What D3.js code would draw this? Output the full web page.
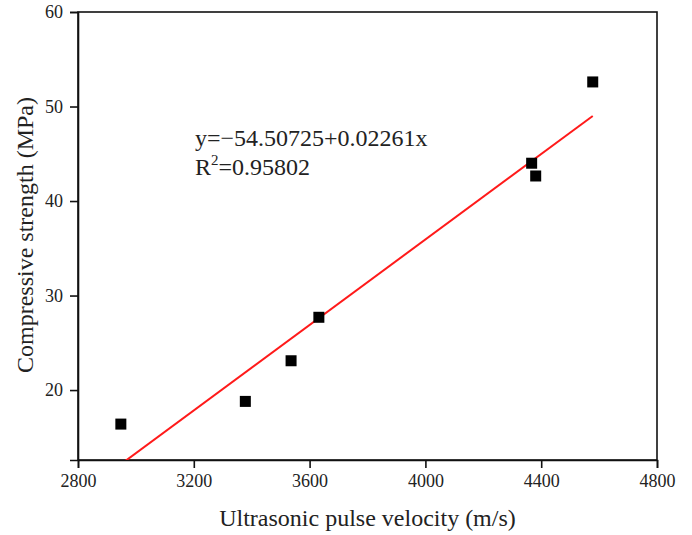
<!DOCTYPE html>
<html><head><meta charset="utf-8">
<script src="https://cdn.jsdelivr.net/npm/d3@7"></script>
<style>body{margin:0;background:#fff}svg{display:block}text{font-family:"Liberation Serif","Times New Roman",serif;fill:#222}</style>
</head><body><div id="c"></div>
<script>
const velocity = [2948, 3378, 3536, 3632, 4367, 4381, 4578];
const strength = [16.4, 18.8, 23.1, 27.7, 44.0, 42.65, 52.6];
const fitIntercept = -54.50725, fitSlope = 0.02261;
const xTicks = [2800, 3200, 3600, 4000, 4400, 4800];
const yTicks = [20, 30, 40, 50, 60];

const W = 692, H = 535;
const m = {l:78, r:35, t:12, b:75};
const svg = d3.select("#c").append("svg").attr("width", W).attr("height", H);
const x = d3.scaleLinear().domain([2800, 4800]).range([m.l, W - m.r]);
const y = d3.scaleLinear().domain([12.6, 60]).range([H - m.b, m.t]);

svg.append("defs").append("clipPath").attr("id","clip").append("rect")
  .attr("x", m.l).attr("y", m.t).attr("width", W-m.r-m.l).attr("height", H-m.b-m.t);

// frame
svg.append("rect").attr("x", m.l).attr("y", m.t).attr("width", W-m.r-m.l).attr("height", H-m.b-m.t)
  .attr("fill","none").attr("stroke","#111").attr("stroke-width",1.6);

const xa = svg.append("g").attr("transform",`translate(0,${H-m.b})`)
  .call(d3.axisBottom(x).tickValues(xTicks).tickSize(8).tickPadding(6).tickFormat(d3.format("d")));
const ya = svg.append("g").attr("transform",`translate(${m.l},0)`)
  .call(d3.axisLeft(y).tickValues(yTicks).tickSize(8).tickPadding(7).tickFormat(d3.format("d")));
[xa, ya].forEach(a => {
  a.select(".domain").attr("stroke","#111").attr("stroke-width",1.6);
  a.selectAll(".tick line").attr("stroke","#111").attr("stroke-width",1.6);
  a.selectAll(".tick text").attr("font-size", 18).attr("font-family","Liberation Serif").attr("fill","#222");
});

// fit line
const xs = d3.extent(velocity);
svg.append("line").attr("clip-path","url(#clip)")
  .attr("x1", x(xs[0])).attr("y1", y(fitIntercept + fitSlope*xs[0]))
  .attr("x2", x(xs[1])).attr("y2", y(fitIntercept + fitSlope*xs[1]))
  .attr("stroke","#ff1a1a").attr("stroke-width",2);

// points
const s = 11;
svg.selectAll("rect.pt").data(velocity).enter().append("rect").attr("class","pt")
  .attr("x", (d)=>x(d)-s/2).attr("y", (d,i)=>y(strength[i])-s/2)
  .attr("width", s).attr("height", s).attr("fill","#000");

// equation
const eq = svg.append("text").attr("x", 195).attr("y", 146).attr("font-size", 24);
eq.text("y=\u221254.50725+0.02261x");
const r2 = svg.append("text").attr("x", 195).attr("y", 175).attr("font-size", 24);
r2.append("tspan").text("R");
r2.append("tspan").attr("font-size", 15).attr("dy", -10).text("2");
r2.append("tspan").attr("dy", 10).text("=0.95802");

// axis titles
svg.append("text").attr("x", (m.l + W - m.r)/2).attr("y", 526).attr("text-anchor","middle")
  .attr("font-size", 24).text("Ultrasonic pulse velocity (m/s)");
svg.append("text").attr("transform", "translate(33,235) rotate(-90)").attr("text-anchor","middle")
  .attr("font-size", 24).text("Compressive strength (MPa)");
</script></body></html>
